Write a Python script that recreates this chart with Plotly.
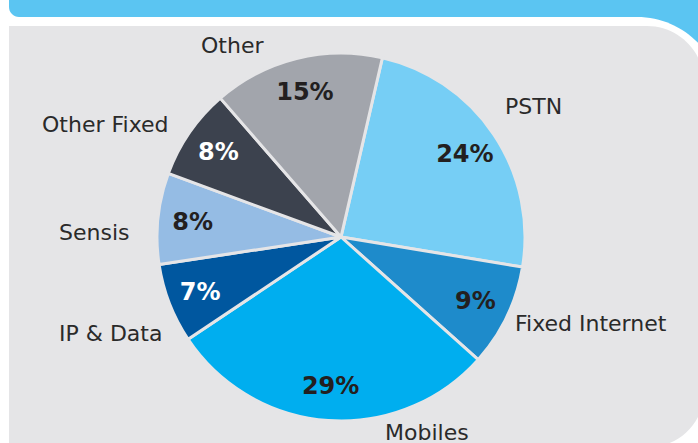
import plotly.graph_objects as go

W, H = 698, 443

categories = ["PSTN", "Fixed Internet", "Mobiles", "IP & Data", "Sensis", "Other Fixed", "Other"]
shares = [24, 9, 29, 7, 8, 8, 15]
slice_colors = ["#76CEF5", "#1E8BCB", "#00AEEF", "#00579F", "#95BCE4", "#3C424E", "#A2A5AC"]
pct_text_colors = ["#231F20", "#231F20", "#231F20", "#FFFFFF", "#231F20", "#FFFFFF", "#231F20"]

PANEL = "#E5E5E7"
BAND = "#5BC5F2"


def px(x, y):
    return f"{x / W:.5f},{1 - y / H:.5f}"


def path(cmds):
    out = []
    for c in cmds:
        if isinstance(c, str):
            out.append(c)
        else:
            out.append(px(*c))
    return " ".join(out)


k = 0.5523
shapes = []
# blue header band with rounded bottom-left corner
shapes.append(dict(type="path", xref="paper", yref="paper", layer="below", line=dict(width=0), fillcolor=BAND,
                   path=path(["M", (9, -5), "L", (710, -5), "L", (710, 17), "L", (19, 17),
                              "C", (19 - 10 * k, 17), (9, 7 + 10 * k), (9, 7), "Z"])))
# blue fill at top-right beyond the white curve
shapes.append(dict(type="path", xref="paper", yref="paper", layer="below", line=dict(width=0), fillcolor=BAND,
                   path=path(["M", (600, -5), "L", (710, -5), "L", (710, 110), "L", (600, 110), "Z"])))
# white gap band
r1 = 85
shapes.append(dict(type="path", xref="paper", yref="paper", layer="below", line=dict(width=0), fillcolor="#FFFFFF",
                   path=path(["M", (590, 17), "L", (637, 17),
                              "C", (637 + r1 * k, 17), (637 + r1, 17 + r1 - r1 * k), (637 + r1, 17 + r1),
                              "L", (722, 200), "L", (590, 200), "Z"])))
# grey panel with rounded right corners
r2 = 57
r3 = 55
R = 704
B = 447
shapes.append(dict(type="path", xref="paper", yref="paper", layer="below", line=dict(width=0), fillcolor=PANEL,
                   path=path(["M", (9, 26), "L", (R - r2, 26),
                              "C", (R - r2 + r2 * k, 26), (R, 26 + r2 - r2 * k), (R, 26 + r2),
                              "L", (R, B - r3),
                              "C", (R, B - r3 + r3 * k), (R - r3 + r3 * k, B), (R - r3, B),
                              "L", (9, B), "Z"])))

cx, cy, rad = 341, 237, 184
dom = dict(x=[(cx - rad) / W, (cx + rad) / W], y=[(H - cy - rad) / H, (H - cy + rad) / H])
ROT = 13

fig = go.Figure()
# coloured slices
fig.add_trace(go.Pie(
    labels=categories,
    values=shares,
    sort=False,
    direction="clockwise",
    rotation=ROT,
    marker=dict(colors=slice_colors, line=dict(color=PANEL, width=3)),
    textinfo="none",
    hoverinfo="label+percent",
    showlegend=False,
    domain=dom,
))
# percentage labels placed in the outer ring of the same slices
fig.add_trace(go.Pie(
    labels=categories,
    values=shares,
    sort=False,
    direction="clockwise",
    rotation=ROT,
    hole=0.62,
    marker=dict(colors=["rgba(0,0,0,0)"] * len(categories), line=dict(width=0)),
    textinfo="percent",
    textposition="inside",
    insidetextorientation="horizontal",
    textfont=dict(family="DejaVu Sans", size=24, color=pct_text_colors, weight="bold"),
    hoverinfo="skip",
    showlegend=False,
    domain=dom,
))

label_pos = {
    "Other": (232, 45),
    "PSTN": (533, 106),
    "Fixed Internet": (591, 323),
    "Mobiles": (427, 432),
    "IP & Data": (110, 333),
    "Sensis": (94, 233),
    "Other Fixed": (105, 124),
}
annotations = []
for name in categories:
    x, y = label_pos[name]
    annotations.append(dict(text=name, x=x / W, y=1 - y / H, xref="paper", yref="paper",
                            showarrow=False, xanchor="center", yanchor="middle",
                            font=dict(family="DejaVu Sans", size=22, color="#2A2A2A")))

fig.update_layout(
    width=W, height=H,
    margin=dict(l=0, r=0, t=0, b=0),
    paper_bgcolor="#FFFFFF",
    plot_bgcolor="#FFFFFF",
    shapes=shapes,
    annotations=annotations,
)

fig.write_html("out.html", config={"displayModeBar": False},
               post_script="document.body.style.margin='0';document.body.style.overflow='hidden';")
